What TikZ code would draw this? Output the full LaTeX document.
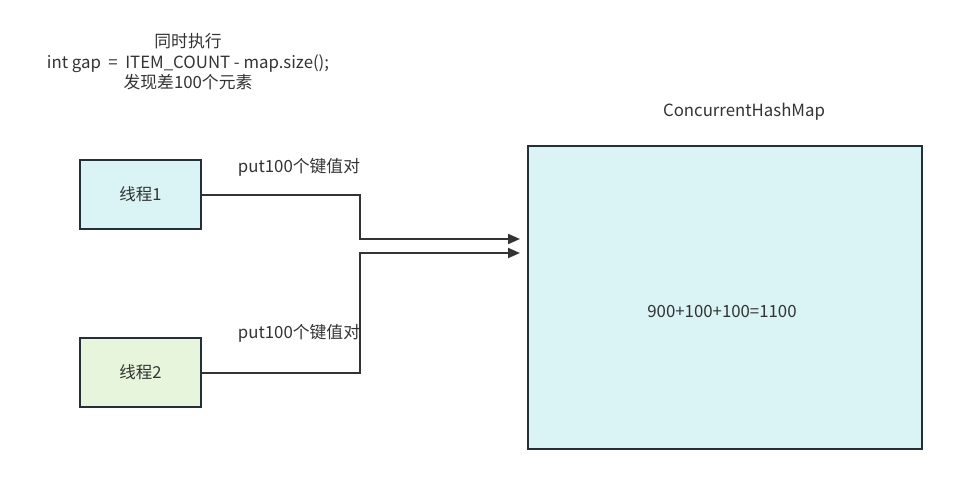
\documentclass[tikz,border=0pt]{standalone}
\usepackage{fontspec}
\setmainfont{Noto Sans CJK SC}
\usetikzlibrary{arrows.meta}
\definecolor{txt}{HTML}{333333}
\definecolor{edge}{HTML}{23303A}
\definecolor{cyanfill}{HTML}{DAF3F4}
\definecolor{greenfill}{HTML}{E6F5DC}
\begin{document}
\begin{tikzpicture}[x=1pt,y=-1pt,
  box/.style={draw=edge,line width=2pt,text=txt,font=\fontsize{16.5}{20}\selectfont},
  lbl/.style={text=txt,font=\fontsize{16.8}{20}\selectfont,inner sep=0pt},
  conn/.style={draw=txt,line width=2pt,-{Triangle[length=12pt,width=10pt]}}]
\useasboundingbox (0,0) rectangle (965,497);
\node[box,fill=cyanfill,minimum width=121pt,minimum height=69pt] (t1) at (140.5,194.5) {线程1};
\node[box,fill=greenfill,minimum width=121pt,minimum height=69pt] (t2) at (140.5,372.5) {线程2};
\node[box,fill=cyanfill,minimum width=394pt,minimum height=303pt] (map) at (725,297.5) {};
\node[lbl] (sum) at (722,312) {900+100+100=1100};
\node[lbl] (title) at (744,112) {ConcurrentHashMap};
\node[lbl,align=center,font=\fontsize{16.8}{20.5}\selectfont] (note) at (188,62) {同时执行\\int gap~~=~~ITEM\_COUNT - map.size();\\发现差100个元素};
\node[lbl] (p1) at (299,167) {put100个键值对};
\node[lbl] (p2) at (299,333) {put100个键值对};
\coordinate (e1) at (520,239);
\coordinate (e2) at (520,253);
\draw[conn] (t1.east) -| (360,239) -- (e1);
\draw[conn] (t2.east) -| (360,253) -- (e2);
\end{tikzpicture}
\end{document}
